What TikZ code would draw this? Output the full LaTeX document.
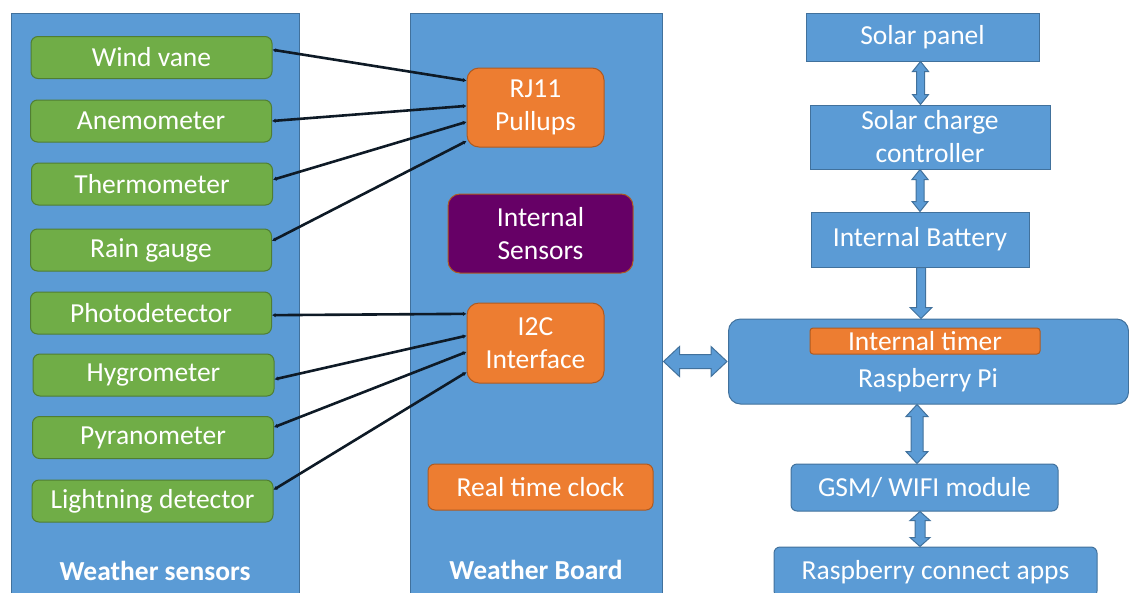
\documentclass[tikz,border=0pt]{standalone}
\usepackage{fontspec}
\setmainfont{Carlito}
\usetikzlibrary{calc}
\usetikzlibrary{arrows.meta}
\definecolor{panelblue}{HTML}{5B9BD5}
\definecolor{paneledge}{HTML}{41719C}
\definecolor{sensgreen}{HTML}{70AD47}
\definecolor{sensedge}{HTML}{507E32}
\definecolor{brdorange}{HTML}{ED7D31}
\definecolor{orangeedge}{HTML}{AE5A21}
\definecolor{intpurple}{HTML}{660066}
\definecolor{wirecol}{HTML}{0E1A26}
\tikzset{bigfont/.style={font=\fontsize{27.5}{33}\selectfont}}
\tikzset{panel/.style = {draw=paneledge, fill=panelblue, line width=1pt, inner sep=0}}
\tikzset{paneltitle/.style = {text=white, font=\fontsize{27.5}{33}\selectfont\bfseries}}
\tikzset{sens/.style = {draw=sensedge, fill=sensgreen, rounded corners=7pt, text=white,
    line width=1pt, inner sep=0, minimum width=241pt, minimum height=42pt, bigfont}}
\tikzset{orbox/.style = {draw=orangeedge, fill=brdorange, text=white, line width=1pt,
    inner sep=0, align=center, bigfont}}
\tikzset{bluebox/.style = {draw=paneledge, fill=panelblue, text=white, line width=1pt,
    inner sep=0, align=center, bigfont}}
\tikzset{wire/.style = {draw=wirecol, line width=2.6pt, >={Latex[length=3.5pt,width=4.5pt]}, <->}}
\tikzset{fat/.style = {draw=paneledge, fill=panelblue, line width=1pt, line join=miter}}
% fat arrows: head length, head half width, shaft half width
\tikzset{fatvv/.style n args={3}{to path={let \p1=(\tikztostart), \p2=(\tikztotarget) in
    (\x1,\y1) -- (\x1+#2,\y1-#1) -- (\x1+#3,\y1-#1) -- (\x1+#3,\y2+#1) -- (\x1+#2,\y2+#1)
    -- (\x1,\y2) -- (\x1-#2,\y2+#1) -- (\x1-#3,\y2+#1) -- (\x1-#3,\y1-#1) -- (\x1-#2,\y1-#1) -- cycle}}}
\tikzset{fatv/.style n args={3}{to path={let \p1=(\tikztostart), \p2=(\tikztotarget) in
    (\x1-#3,\y1) -- (\x1+#3,\y1) -- (\x1+#3,\y2+#1) -- (\x1+#2,\y2+#1)
    -- (\x1,\y2) -- (\x1-#2,\y2+#1) -- (\x1-#3,\y2+#1) -- cycle}}}
\tikzset{fathh/.style n args={3}{to path={let \p1=(\tikztostart), \p2=(\tikztotarget) in
    (\x1,\y1) -- (\x1+#1,\y1+#2) -- (\x1+#1,\y1+#3) -- (\x2-#1,\y1+#3) -- (\x2-#1,\y1+#2)
    -- (\x2,\y1) -- (\x2-#1,\y1-#2) -- (\x2-#1,\y1-#3) -- (\x1+#1,\y1-#3) -- (\x1+#1,\y1-#2) -- cycle}}}

\begin{document}
\begin{tikzpicture}[x=1pt, y=-1pt]
  \useasboundingbox (0,0) rectangle (1129,592);
  \node[panel, minimum width=288pt, minimum height=590pt] (wsens) at (155,308) {};
  \node[panel, minimum width=252pt, minimum height=590pt] (wboard) at (536,308) {};
  \node[paneltitle] (senstitle) at (155,571) {Weather sensors};
  \node[paneltitle] (boardtitle) at (536,570) {Weather Board};

  \node[sens] (wind) at (151.5,57.5) {Wind vane};
  \node[sens] (anem) at (151,121) {Anemometer};
  \node[sens] (thermo) at (152,184) {Thermometer};
  \node[sens] (rain) at (151,250) {Rain gauge};
  \node[sens] (photo) at (151,313) {Photodetector};
  \node[sens] (hygro) at (153.5,375) {Hygrometer};
  \node[sens] (pyra) at (153,437.5) {Pyranometer};
  \node[sens] (light) at (152.5,501) {Lightning detector};

  \node[orbox, rounded corners=12pt, minimum width=137pt, minimum height=79pt] (rj) at (535.5,107.5) {RJ11\\Pullups};
  \node[orbox, fill=intpurple, rounded corners=12pt, minimum width=185pt, minimum height=79pt] (intsens) at (540.5,233.5) {Internal\\Sensors};
  \node[orbox, rounded corners=12pt, minimum width=137pt, minimum height=80pt] (i2c) at (535.5,343) {I2C\\Interface};
  \node[orbox, rounded corners=7pt, minimum width=225pt, minimum height=46pt] (rtc) at (540.5,487) {Real time clock};

  \draw[wire] ($(wind.north east)!0.32!(wind.south east)$) -- ($(rj.north west)!0.165!(rj.south west)$);
  \draw[wire] ($(anem.north east)!0.5!(anem.south east)$) -- ($(rj.north west)!0.48!(rj.south west)$);
  \draw[wire] ($(thermo.north east)!0.4!(thermo.south east)$) -- ($(rj.north west)!0.68!(rj.south west)$);
  \draw[wire] ($(rain.north east)!0.29!(rain.south east)$) -- ($(rj.north west)!0.92!(rj.south west)$);
  \draw[wire] ($(photo.north east)!0.55!(photo.south east)$) -- ($(i2c.north west)!0.14!(i2c.south west)$);
  \draw[wire] ($(hygro.north east)!0.6!(hygro.south east)$) -- ($(i2c.north west)!0.41!(i2c.south west)$);
  \draw[wire] ($(pyra.north east)!0.26!(pyra.south east)$) -- ($(i2c.north west)!0.61!(i2c.south west)$);
  \draw[wire] ($(light.north east)!0.24!(light.south east)$) -- ($(i2c.north west)!0.86!(i2c.south west)$);

  \node[bluebox, minimum width=233pt, minimum height=48pt] (sp) at (922.5,37) {Solar panel};
  \node[bluebox, minimum width=240pt, minimum height=64pt] (scc) at (930,137) {Solar charge\\controller};
  \node[bluebox, minimum width=218pt, minimum height=55pt] (bat) at (920,239.5) {Internal Battery};
  \node[bluebox, rounded corners=12pt, minimum width=400pt, minimum height=85pt] (rpi) at (928.5,361.5) {};
  \node[orbox, rounded corners=3pt, minimum width=230pt, minimum height=26pt] (timer) at (925,341) {Internal timer};
  \node[text=white, bigfont] (rpitxt) at (928,380) {Raspberry Pi};
  \node[bluebox, rounded corners=6pt, minimum width=267pt, minimum height=47pt] (gsm) at (924.5,487.5) {GSM/ WIFI module};
  \node[bluebox, rounded corners=6pt, minimum width=323pt, minimum height=50pt] (apps) at (935.5,572) {Raspberry connect apps};

  \draw[fat] ([xshift=-2pt]sp.south) to[fatvv={10pt}{8pt}{4pt}] (scc.north);
  \draw[fat] ([xshift=-10pt]scc.south) to[fatvv={10pt}{8pt}{4pt}] (bat.north);
  \draw[fat] ([xshift=1pt]bat.south) to[fatv={11pt}{11pt}{4.5pt}] (rpi.north);
  \draw[fat] ([xshift=-11.5pt]rpi.south) to[fatvv={12pt}{11pt}{6pt}] (gsm.north);
  \draw[fat] ([xshift=-4.5pt]gsm.south) to[fatvv={9pt}{10pt}{5pt}] (apps.north);
  \draw[fat] ([xshift=1pt]wboard.east |- rpi.west) to[fathh={16pt}{15pt}{7pt}] ([xshift=-1pt]rpi.west);
\end{tikzpicture}
\end{document}
